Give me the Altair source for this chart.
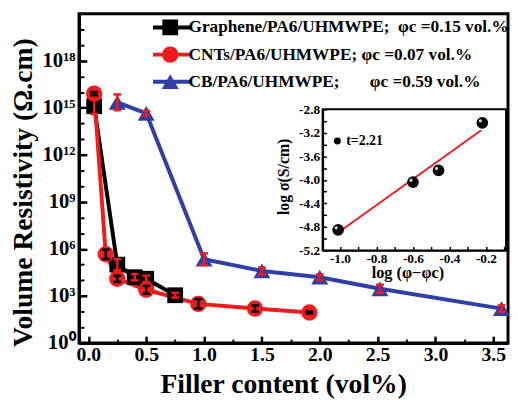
import altair as alt
import pandas as pd

FONT = "Liberation Serif"

# ---------------- data ----------------
series_keys = ["Graphene", "CNTs", "CB"]
legend_labels = [
    "Graphene/PA6/UHMWPE;\u00a0\u00a0φc =0.15 vol.%",
    "CNTs/PA6/UHMWPE; φc =0.07 vol.%",
    "CB/PA6/UHMWPE;" + "\u00a0" * 7 + "φc =0.59 vol.%",
]
series_colors = ["#000000", "#ee1c1c", "#2f3fa6"]
series_shapes = ["square", "circle", "triangle-up"]
series_sizes = [256, 300, 420]
errbar_colors = ["#ee1c1c", "#000000", "#ee1c1c"]

graphene_x = [0.05, 0.25, 0.40, 0.50, 0.75]
graphene_exp = [15.1, 5.0, 4.2, 4.1, 3.05]
graphene_err = [0.5, 0.35, 0.2, 0.2, 0.15]

cnt_x = [0.05, 0.15, 0.25, 0.50, 0.95, 1.44, 1.91]
cnt_exp = [15.9, 5.66, 4.1, 3.4, 2.5, 2.2, 1.95]
cnt_err = [0.1, 0.3, 0.2, 0.25, 0.3, 0.2, 0.06]

cb_x = [0.25, 0.50, 1.00, 1.50, 2.00, 2.52, 3.57]
cb_exp = [15.35, 14.65, 5.35, 4.6, 4.2, 3.46, 2.2]
cb_err = [0.5, 0.15, 0.37, 0.22, 0.18, 0.26, 0.2]

x_ticks = [0.0, 0.5, 1.0, 1.5, 2.0, 2.5, 3.0, 3.5]
x_minor = [0.25, 0.75, 1.25, 1.75, 2.25, 2.75, 3.25]
ytick_exps = [0, 3, 6, 9, 12, 15, 18]
ytick_labels = ["10⁰", "10³", "10⁶", "10⁹", "10¹²", "10¹⁵", "10¹⁸"]
yminor_exps = list(range(0, 21))

# inset
inset_x = [-1.01, -0.60, -0.46, -0.22]
inset_y = [-4.85, -4.04, -3.84, -3.03]
fit_x = [-1.0, -0.226]
fit_y = [-4.875, -3.157]
t_label_x = [-1.014]
t_label_y = [-3.34]
t_label_text = ["t=2.21"]
inset_xticks = [-1.0, -0.8, -0.6, -0.4, -0.2]
inset_xminor = [-1.0, -0.9, -0.8, -0.7, -0.6, -0.5, -0.4, -0.3, -0.2, -0.1]
inset_yticks = [-5.2, -4.8, -4.4, -4.0, -3.6, -3.2, -2.8]
inset_yminor = [-5.2, -5.0, -4.8, -4.6, -4.4, -4.2, -4.0, -3.8, -3.6, -3.4, -3.2, -3.0, -2.8]

# ---------------- tables ----------------
rows, errs = [], []
for key, lab, xs, ex, er, ec in zip(
    series_keys, legend_labels,
    [graphene_x, cnt_x, cb_x], [graphene_exp, cnt_exp, cb_exp],
    [graphene_err, cnt_err, cb_err], errbar_colors,
):
    for x, e, d in zip(xs, ex, er):
        rows.append({"key": key, "label": lab, "x": x, "rho": 10 ** e})
        errs.append({"x": x, "lo": 10 ** (e - d), "hi": 10 ** (e + d), "ecol": ec})
df = pd.DataFrame(rows)
df_err = pd.DataFrame(errs)
df_inset = pd.DataFrame({"x": inset_x, "y": inset_y})
df_fit = pd.DataFrame({"x": fit_x, "y": fit_y})
df_t = pd.DataFrame({"x": t_label_x, "y": t_label_y, "t": t_label_text})

# ---------------- layout ----------------
W, H = 435, 334
x_scale = alt.Scale(domain=[-0.081, 3.627], nice=False, zero=False)
y_scale = alt.Scale(type="log", domain=[1, 1e21], nice=False)

ylab_expr = "[" + ",".join("'%s'" % s for s in ytick_labels) + "][round(log(datum.value)/LN10/3)]"

ax_x = alt.Axis(orient="bottom", values=x_ticks, format=".1f", ticks=False,
                domainWidth=3, labelFontSize=20, labelPadding=2, labelFlush=False,
                labelOverlap=False, title="Filler content (vol%)", titleFontSize=28,
                titleX=207, titleY=50, titleBaseline="alphabetic", zindex=1)
ax_x_in = alt.Axis(orient="top", offset=-H, values=x_ticks, labels=False, domain=False,
                   tickSize=7, tickWidth=2.5, title=None, zindex=1)
ax_x_in2 = alt.Axis(orient="top", offset=-H, values=x_minor, labels=False, domain=False,
                    tickSize=4, tickWidth=2, title=None, zindex=1)
ax_y = alt.Axis(orient="left", values=[10 ** e for e in ytick_exps], labelExpr=ylab_expr,
                ticks=False, domainWidth=3, labelFontSize=21, labelPadding=4,
                labelOverlap=False, labelFlush=False,
                title="Volume Resistivity (Ω.cm)", titleFontSize=28, titleAngle=270,
                titleX=-48, titleY=181, titleBaseline="alphabetic", zindex=1)
ax_y_in = alt.Axis(orient="right", offset=-W, values=[10 ** e for e in ytick_exps],
                   labels=False, domain=False, tickSize=8, tickWidth=2.5, title=None, zindex=1)
ax_y_in2 = alt.Axis(orient="right", offset=-W, values=[10 ** e for e in yminor_exps],
                    labels=False, domain=False, tickSize=5, tickWidth=2, title=None, zindex=1)

line_legend = alt.Legend(orient="none", legendX=73, legendY=3, title=None, padding=0,
                         symbolType="stroke", symbolSize=1444, symbolStrokeWidth=4,
                         labelExpr="''", labelFont=FONT, labelFontSize=17.5,
                         labelFontWeight="bold", clipHeight=22, rowPadding=5.5)
point_legend = alt.Legend(orient="none", legendX=83.5, legendY=3, title=None, padding=0,
                          symbolStrokeWidth=0, symbolOpacity=1, labelOffset=9.5,
                          labelFont=FONT, labelFontSize=17.5, labelFontWeight="bold",
                          labelColor="black", labelLimit=500, clipHeight=22, rowPadding=5.5)

base = alt.Chart(df)
lines = base.mark_line(strokeWidth=4).encode(
    x=alt.X("x:Q", scale=x_scale, axis=ax_x),
    y=alt.Y("rho:Q", scale=y_scale, axis=ax_y),
    color=alt.Color("key:N", scale=alt.Scale(domain=series_keys, range=series_colors),
                    legend=line_legend),
)
points = base.mark_point(filled=True, opacity=1, strokeWidth=0).encode(
    x=alt.X("x:Q", scale=x_scale, axis=ax_x_in),
    y=alt.Y("rho:Q", scale=y_scale, axis=ax_y_in),
    fill=alt.Fill("label:N", scale=alt.Scale(domain=legend_labels, range=series_colors),
                  legend=point_legend),
    shape=alt.Shape("label:N", scale=alt.Scale(domain=legend_labels, range=series_shapes),
                    legend=point_legend),
    size=alt.Size("label:N", scale=alt.Scale(domain=legend_labels, range=series_sizes),
                  legend=point_legend),
)
ebase = alt.Chart(df_err)
stems = ebase.mark_rule(strokeWidth=2.5).encode(
    x=alt.X("x:Q", scale=x_scale, axis=ax_x_in2),
    y=alt.Y("lo:Q", scale=y_scale, axis=ax_y_in2),
    y2="hi:Q",
    stroke=alt.Stroke("ecol:N", scale=None),
)
cap_lo = ebase.mark_rule(strokeWidth=2.5, xOffset=-4, x2Offset=4).encode(
    x=alt.X("x:Q", scale=x_scale, axis=None), x2="x:Q",
    y=alt.Y("lo:Q", scale=y_scale, axis=None),
    stroke=alt.Stroke("ecol:N", scale=None),
)
cap_hi = ebase.mark_rule(strokeWidth=2.5, xOffset=-4, x2Offset=4).encode(
    x=alt.X("x:Q", scale=x_scale, axis=None), x2="x:Q",
    y=alt.Y("hi:Q", scale=y_scale, axis=None),
    stroke=alt.Stroke("ecol:N", scale=None),
)
main = alt.layer(lines, points, stems, cap_lo, cap_hi).resolve_axis(x="independent", y="independent")

# ---------------- inset ----------------
IL, IR, IT, IB = 247, 433, 97, 240
ix_scale = alt.Scale(domain=[-1.095, -0.09], range=[IL, IR], nice=False, zero=False)
iy_scale = alt.Scale(domain=[-5.2, -2.8], range=[IB, IT], nice=False, zero=False)
minus_expr = "replace(format(datum.value, '.1f'), '\u2212', '-')"

iax_x = alt.Axis(orient="bottom", offset=IB - H, values=inset_xticks, labelExpr=minus_expr,
                 ticks=False, domainWidth=2, labelFontSize=13.5, labelPadding=1,
                 labelFlush=False, labelOverlap=False,
                 title="log (φ−φc)", titleFontSize=16.5, titleX=333, titleY=28,
                 titleBaseline="alphabetic", zindex=2)
iax_x_in = alt.Axis(orient="top", offset=-IB, values=inset_xminor, labels=False,
                    domain=False, tickSize=4, tickWidth=1.5, title=None, zindex=2)
iax_y = alt.Axis(orient="left", offset=-IL, values=inset_yticks, labelExpr=minus_expr,
                 ticks=False, domainWidth=2, labelFontSize=13.5, labelPadding=3,
                 labelFlush=False, labelOverlap=False,
                 title="log σ(S/cm)", titleFontSize=16, titleAngle=270, titleX=-35,
                 titleY=165, titleBaseline="alphabetic", zindex=2)
iax_y_in = alt.Axis(orient="right", offset=IL - W, values=inset_yminor, labels=False,
                    domain=False, tickSize=4, tickWidth=1.5, title=None, zindex=2)

frame = alt.Chart(pd.DataFrame({"a": [0]})).mark_rect(
    fill="white", stroke="black", strokeWidth=2
).encode(x=alt.value(IL), x2=alt.value(IR), y=alt.value(IT), y2=alt.value(IB))

fit = alt.Chart(df_fit).mark_line(color="#ee1c1c", strokeWidth=2).encode(
    x=alt.X("x:Q", scale=ix_scale, axis=iax_x_in),
    y=alt.Y("y:Q", scale=iy_scale, axis=iax_y_in),
)
ipts = alt.Chart(df_inset).mark_circle(size=140, color="black", opacity=1).encode(
    x=alt.X("x:Q", scale=ix_scale, axis=iax_x),
    y=alt.Y("y:Q", scale=iy_scale, axis=iax_y),
)
ihl = alt.Chart(df_inset).mark_circle(size=12, color="#c8c8c8", opacity=1, xOffset=-2, yOffset=-2).encode(
    x=alt.X("x:Q", scale=ix_scale, axis=None),
    y=alt.Y("y:Q", scale=iy_scale, axis=None),
)
tdot = alt.Chart(df_t).mark_circle(size=50, color="black", opacity=1).encode(
    x=alt.X("x:Q", scale=ix_scale, axis=None),
    y=alt.Y("y:Q", scale=iy_scale, axis=None),
)
ttext = alt.Chart(df_t).mark_text(align="left", baseline="middle", dx=9, font=FONT,
                                  fontSize=14, fontWeight="bold", color="black").encode(
    x=alt.X("x:Q", scale=ix_scale, axis=None),
    y=alt.Y("y:Q", scale=iy_scale, axis=None),
    text="t:N",
)
inset = alt.layer(frame, fit, ipts, ihl, tdot, ttext).resolve_axis(x="independent", y="independent")

chart = alt.layer(main, inset).resolve_scale(
    x="independent", y="independent"
).resolve_axis(
    x="independent", y="independent"
).properties(
    width=W, height=H,
    autosize=alt.AutoSizeParams(type="none"),
    padding={"left": 72, "top": 3, "right": 2, "bottom": 58},
    background="white",
).configure_view(
    stroke="black", strokeWidth=3
).configure_axis(
    labelFont=FONT, titleFont=FONT, labelFontWeight="bold", titleFontWeight="bold",
    labelColor="black", titleColor="black", domainColor="black", tickColor="black",
    grid=False,
)

chart.save("out.html", embed_options={"renderer": "svg", "actions": False})
